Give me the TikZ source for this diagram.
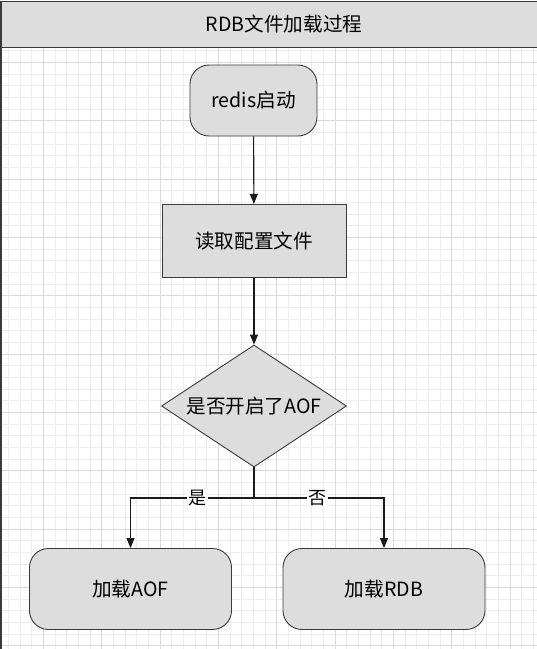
\documentclass[tikz,border=0pt]{standalone}
\usepackage{fontspec}
\setmainfont{Noto Sans CJK SC}
\usetikzlibrary{arrows.meta,shapes.geometric}
\definecolor{boxfill}{HTML}{DDDDDD}
\definecolor{boxline}{HTML}{3A3A3A}
\definecolor{gridminor}{HTML}{EDEDED}
\definecolor{gridmajor}{HTML}{DADADA}
\definecolor{arrowcol}{HTML}{1A1A1A}
\tikzset{
  txt/.style={font=\fontsize{19.6}{23}\selectfont, text=black},
  roundbox/.style={txt, draw=boxline, fill=boxfill, line width=0.9pt, rounded corners=19pt, inner sep=0pt},
  rectbox/.style={txt, draw=boxline, fill=boxfill, line width=0.9pt, inner sep=0pt},
  decbox/.style={txt, diamond, aspect=1.516, draw=boxline, fill=boxfill, line width=0.9pt, inner sep=0pt},
  titlebar/.style={txt, draw=boxline, fill=boxfill, line width=1pt, inner sep=0pt},
  arr/.style={draw=arrowcol, line width=1.1pt, -{Triangle[width=8pt,length=10pt]}},
  conn/.style={draw=arrowcol, line width=1.1pt},
  lbl/.style={font=\fontsize{18}{21}\selectfont, fill=white, inner sep=1.5pt, text=black},
  gminor/.style={draw=gridminor, line width=0.8pt},
  gmajor/.style={draw=gridmajor, line width=0.9pt}
}
\begin{document}
\begin{tikzpicture}[x=1pt,y=-1pt]
\useasboundingbox (0,0) rectangle (537,649);
\fill[white] (0,0) rectangle (537,649);
\begin{scope}
\clip (0,0) rectangle (537,649);
% grid
\foreach \i in {0,...,46} {
  \draw[gminor] ({8.333+11.667*\i},47) -- ({8.333+11.667*\i},649);
}
\foreach \i in {0,...,56} {
  \draw[gminor] (0,{4+11.667*\i}) -- (537,{4+11.667*\i});
}
\foreach \i in {0,...,9} {
  \draw[gmajor] ({43.333+58.333*\i},47) -- ({43.333+58.333*\i},649);
}
\foreach \i in {0,...,11} {
  \draw[gmajor] (0,{4+58.333*\i}) -- (537,{4+58.333*\i});
}
% title bar and left border
\node[titlebar, minimum width=566pt, minimum height=46pt] (title) at (284,24) {RDB文件加载过程};
\draw[boxline, line width=1.2pt] (1,1) -- (1,649);
\end{scope}

% nodes
\node[roundbox, minimum width=127pt, minimum height=71pt] (redis) at (253.5,100.5) {redis启动};
\node[rectbox, minimum width=184pt, minimum height=73pt] (read) at (254,240.8) {读取配置文件};
\node[decbox, minimum width=185pt, minimum height=122pt] (dec) at (254,406) {是否开启了AOF};
\node[roundbox, minimum width=202pt, minimum height=81pt] (aof) at (130.5,589) {加载AOF};
\node[roundbox, minimum width=202pt, minimum height=81pt] (rdb) at (384,589) {加载RDB};
\coordinate (split) at (254,498);

% connectors
\draw[arr] (redis) -- (read);
\draw[arr] (read) -- (dec);
\draw[conn] (dec.south) -- (split);
\draw[arr] (split) -| node[lbl, pos=0.228] {是} (aof.north);
\draw[arr] (split) -| node[lbl, pos=0.246] {否} (rdb.north);
\end{tikzpicture}
\end{document}
